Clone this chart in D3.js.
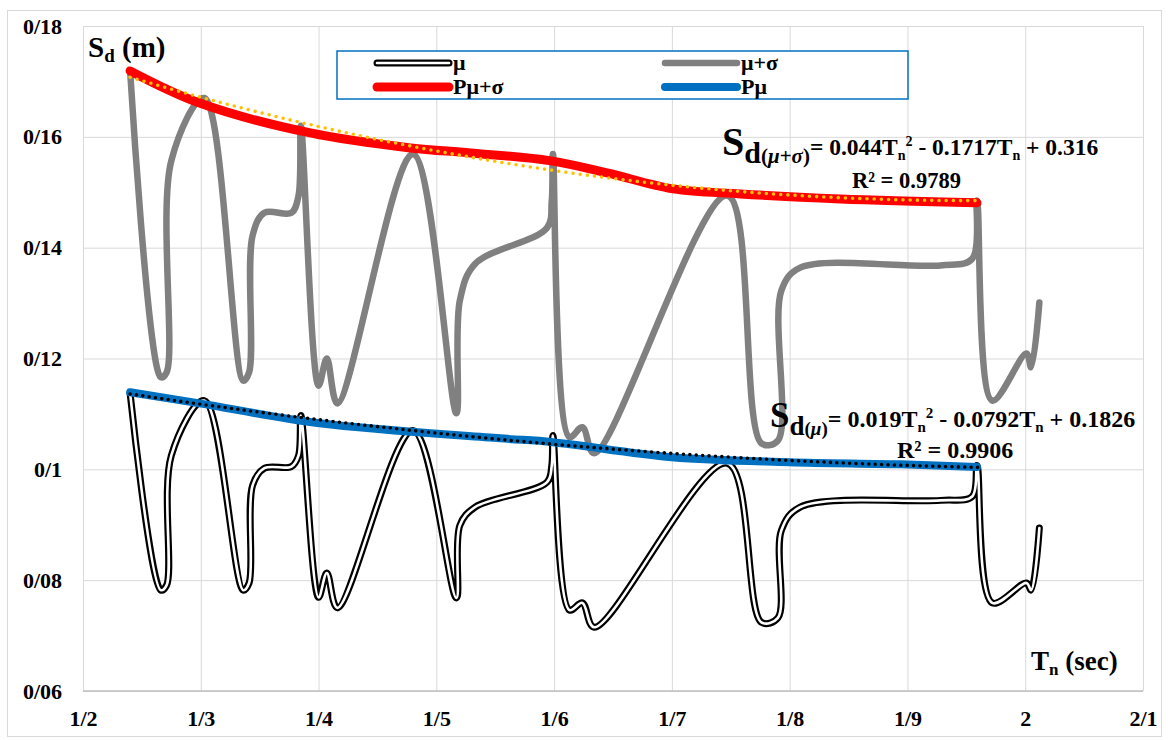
<!DOCTYPE html>
<html>
<head>
<meta charset="utf-8" />
<script src="https://d3js.org/d3.v7.min.js"></script>
<style>
  body { margin: 0; background: #fff; }
  svg { display: block; font-family: "Liberation Serif", "Times New Roman", "DejaVu Serif", serif; font-weight: bold; }
</style>
</head>
<body>
<svg id="chart" width="1168" height="740"></svg>
<script>
// periods shared by the mu and mu+sigma series
const periods = [1.240, 1.266, 1.271, 1.275, 1.303, 1.336, 1.341, 1.344, 1.354, 1.377, 1.383, 1.385,
  1.400, 1.407, 1.416, 1.480, 1.517, 1.520, 1.533, 1.594, 1.598, 1.599, 1.613, 1.624, 1.634,
  1.747, 1.776, 1.790, 1.793, 1.809, 1.928, 1.955, 1.959, 1.972, 2.001, 2.005, 2.012]
const muSigma = [0.1719, 0.1166, 0.1175, 0.1557, 0.1670, 0.1160, 0.1175, 0.1422, 0.1463, 0.1463, 0.1494, 0.1620,
  0.1151, 0.1200, 0.1119, 0.1569, 0.1101, 0.1305, 0.1371, 0.1436, 0.1485, 0.1569, 0.1058, 0.1076, 0.1029,
  0.1494, 0.1047, 0.1052, 0.1323, 0.1364, 0.1368, 0.1380, 0.1485, 0.1124, 0.1209, 0.1184, 0.1301]
const mu = [0.1137, 0.0782, 0.0791, 0.1025, 0.1124, 0.0782, 0.0795, 0.0971, 0.1002, 0.1005, 0.1025, 0.1097,
  0.0769, 0.0813, 0.0750, 0.1070, 0.0768, 0.0899, 0.0932, 0.0977, 0.1007, 0.1061, 0.0746, 0.0759, 0.0715,
  0.1011, 0.0724, 0.0732, 0.0890, 0.0932, 0.0944, 0.0951, 0.1007, 0.0759, 0.0795, 0.0782, 0.0894]

// envelope curves
const pMuSigmaT = [1.240, 1.299, 1.393, 1.478, 1.529, 1.596, 1.645, 1.701, 1.758, 1.843, 1.959]
const pMuSigma = [0.1719, 0.1661, 0.1607, 0.1580, 0.1571, 0.1557, 0.1535, 0.1506, 0.1497, 0.1488, 0.1481]
const pMuT = [1.240, 1.299, 1.401, 1.554, 1.599, 1.700, 1.800, 1.894, 1.959]
const pMu = [0.1139, 0.1119, 0.1083, 0.1056, 0.1049, 0.1022, 0.1013, 0.1009, 0.1004]

// quadratic trendlines (a, b, c) as printed on the chart
const trendMuSigma = [0.044, -0.1717, 0.316]
const trendMu = [0.019, -0.0792, 0.1826]
const trendRange = [1.24, 1.96]

const xTicks = [1.2, 1.3, 1.4, 1.5, 1.6, 1.7, 1.8, 1.9, 2.0, 2.1]
const xTickLabels = ['1/2', '1/3', '1/4', '1/5', '1/6', '1/7', '1/8', '1/9', '2', '2/1']
const yTicks = [0.06, 0.08, 0.10, 0.12, 0.14, 0.16, 0.18]
const yTickLabels = ['0/06', '0/08', '0/1', '0/12', '0/14', '0/16', '0/18']

const svg = d3.select('#chart')
const plotLeft = 83, plotRight = 1143, plotTop = 26, plotBottom = 691
const serif = '"Liberation Serif", "Times New Roman", "DejaVu Serif", serif'

const x = d3.scaleLinear().domain([1.2, 2.1]).range([plotLeft, plotRight])
const y = d3.scaleLinear().domain([0.06, 0.18]).range([plotBottom, plotTop])

// outer border
svg.append('rect')
  .attr('x', 7.5).attr('y', 10.5).attr('width', 1154).attr('height', 726)
  .style('fill', 'none').style('stroke', '#d9d9d9')

// grid + axes
svg.append('g')
  .attr('transform', `translate(${plotLeft},0)`)
  .call(d3.axisLeft(y).tickValues(yTicks).tickFormat((d, i) => yTickLabels[i])
    .tickSize(-(plotRight - plotLeft)).tickPadding(21))
  .call(g => g.select('.domain').remove())
  .call(g => g.selectAll('line').style('stroke', '#d9d9d9'))
  .call(g => g.selectAll('text').style('font-size', '22px').style('font-family', serif)
    .style('font-weight', 'bold').attr('fill', '#000'))

svg.append('g')
  .attr('transform', `translate(0,${plotBottom})`)
  .call(d3.axisBottom(x).tickValues(xTicks).tickFormat((d, i) => xTickLabels[i])
    .tickSize(-(plotBottom - plotTop)).tickPadding(19))
  .call(g => g.select('.domain').remove())
  .call(g => g.selectAll('line').style('stroke', '#d9d9d9'))
  .call(g => g.selectAll('text').style('font-size', '22px').style('font-family', serif)
    .style('font-weight', 'bold').attr('fill', '#000'))

svg.append('line')
  .attr('x1', plotLeft).attr('x2', plotRight).attr('y1', plotBottom).attr('y2', plotBottom)
  .style('stroke', '#bfbfbf').style('stroke-width', 1.5)

const smooth = d3.line()
  .x(d => x(d[0])).y(d => y(d[1]))
  .curve(d3.curveCatmullRom.alpha(0.5))

const straight = d3.line().x(d => x(d[0])).y(d => y(d[1]))

const graySeries = periods.map((t, i) => [t, muSigma[i]])
const blackSeries = periods.map((t, i) => [t, mu[i]])
const redSeries = pMuSigmaT.map((t, i) => [t, pMuSigma[i]])
const blueSeries = pMuT.map((t, i) => [t, pMu[i]])

function trend(c) {
  return d3.range(trendRange[0], trendRange[1] + 0.0001, 0.005)
    .map(t => [t, c[0] * t * t + c[1] * t + c[2]])
}

svg.append('path').attr('d', smooth(graySeries))
  .style('fill', 'none').style('stroke', '#808080').style('stroke-width', 6.5)
  .style('stroke-linecap', 'round').style('stroke-linejoin', 'round')

svg.append('path').attr('d', smooth(blackSeries))
  .style('fill', 'none').style('stroke', '#000').style('stroke-width', 7)
  .style('stroke-linecap', 'round').style('stroke-linejoin', 'round')
svg.append('path').attr('d', smooth(blackSeries))
  .style('fill', 'none').style('stroke', '#fff').style('stroke-width', 2.6)
  .style('stroke-linecap', 'round').style('stroke-linejoin', 'round')

svg.append('path').attr('d', smooth(redSeries))
  .style('fill', 'none').style('stroke', '#ff0000').style('stroke-width', 9)
  .style('stroke-linecap', 'round')

svg.append('path').attr('d', smooth(blueSeries))
  .style('fill', 'none').style('stroke', '#0070c0').style('stroke-width', 8)
  .style('stroke-linecap', 'round')

svg.append('path').attr('d', straight(trend(trendMuSigma)))
  .style('fill', 'none').style('stroke', '#ffc000').style('stroke-width', 3.6)
  .style('stroke-linecap', 'round').style('stroke-dasharray', '0 7.2')

svg.append('path').attr('d', straight(trend(trendMu)))
  .style('fill', 'none').style('stroke', '#000').style('stroke-width', 3.6)
  .style('stroke-linecap', 'round').style('stroke-dasharray', '0 6.4')

// legend
const legend = svg.append('g')
legend.append('rect')
  .attr('x', 337).attr('y', 51).attr('width', 571).attr('height', 48)
  .style('fill', '#fff').style('stroke', '#0070c0').style('stroke-width', 1.5)

const legendItems = [
  { label: 'μ', x: 377, y: 63, color: '#000', double: true },
  { label: 'μ+σ', x: 665, y: 63, color: '#808080', w: 6.5 },
  { label: 'Pμ+σ', x: 377, y: 87, color: '#ff0000', w: 9 },
  { label: 'Pμ', x: 665, y: 87, color: '#0070c0', w: 8 }
]
legendItems.forEach(d => {
  legend.append('line')
    .attr('x1', d.x).attr('x2', d.x + 72).attr('y1', d.y).attr('y2', d.y)
    .style('stroke', d.color).style('stroke-width', d.double ? 7 : d.w).style('stroke-linecap', 'round')
  if (d.double) {
    legend.append('line')
      .attr('x1', d.x).attr('x2', d.x + 72).attr('y1', d.y).attr('y2', d.y)
      .style('stroke', '#fff').style('stroke-width', 2.6).style('stroke-linecap', 'round')
  }
  legend.append('text')
    .attr('x', d.x + 76).attr('y', d.y + 7)
    .style('font-size', '22px')
    .text(d.label)
})

// axis titles
const yTitle = svg.append('text').attr('x', 88).attr('y', 57).style('font-size', '29px')
yTitle.append('tspan').text('S')
yTitle.append('tspan').attr('dy', 5).style('font-size', '19px').text('d')
yTitle.append('tspan').attr('dy', -5).text(' (m)')

const xTitle = svg.append('text').attr('x', 1031).attr('y', 670).style('font-size', '27px')
xTitle.append('tspan').text('T')
xTitle.append('tspan').attr('dy', 5).style('font-size', '17px').text('n')
xTitle.append('tspan').attr('dy', -5).text(' (sec)')

// equations
function equation(x0, y0, sSize, dSize, subSize, mainSize, smallSize, sub, coeffs) {
  const t = svg.append('text').attr('x', x0).attr('y', y0)
  t.append('tspan').style('font-size', sSize + 'px').text('S')
  t.append('tspan').attr('dy', 8).style('font-size', dSize + 'px').text('d')
  t.append('tspan').style('font-size', subSize + 'px').text('(')
  t.append('tspan').style('font-size', subSize + 'px').style('font-style', 'italic').text(sub)
  t.append('tspan').style('font-size', subSize + 'px').text(')')
  t.append('tspan').attr('dy', -8).style('font-size', mainSize + 'px').text('= ' + coeffs[0] + 'T')
  t.append('tspan').attr('dy', 5).style('font-size', smallSize + 'px').text('n')
  t.append('tspan').attr('dy', -14).style('font-size', smallSize + 'px').text('2')
  t.append('tspan').attr('dy', 9).style('font-size', mainSize + 'px').text(' - ' + Math.abs(coeffs[1]) + 'T')
  t.append('tspan').attr('dy', 5).style('font-size', smallSize + 'px').text('n')
  t.append('tspan').attr('dy', -5).style('font-size', mainSize + 'px').text(' + ' + coeffs[2])
}
equation(722, 155, 40, 30, 21, 23.5, 14, 'μ+σ', trendMuSigma)
svg.append('text').attr('x', 852).attr('y', 188).style('font-size', '22.5px').text('R² = 0.9789')

equation(770, 427, 35, 27, 19, 24, 15, 'μ', trendMu)
svg.append('text').attr('x', 897).attr('y', 458).style('font-size', '24px').text('R² = 0.9906')
</script>
</body>
</html>
